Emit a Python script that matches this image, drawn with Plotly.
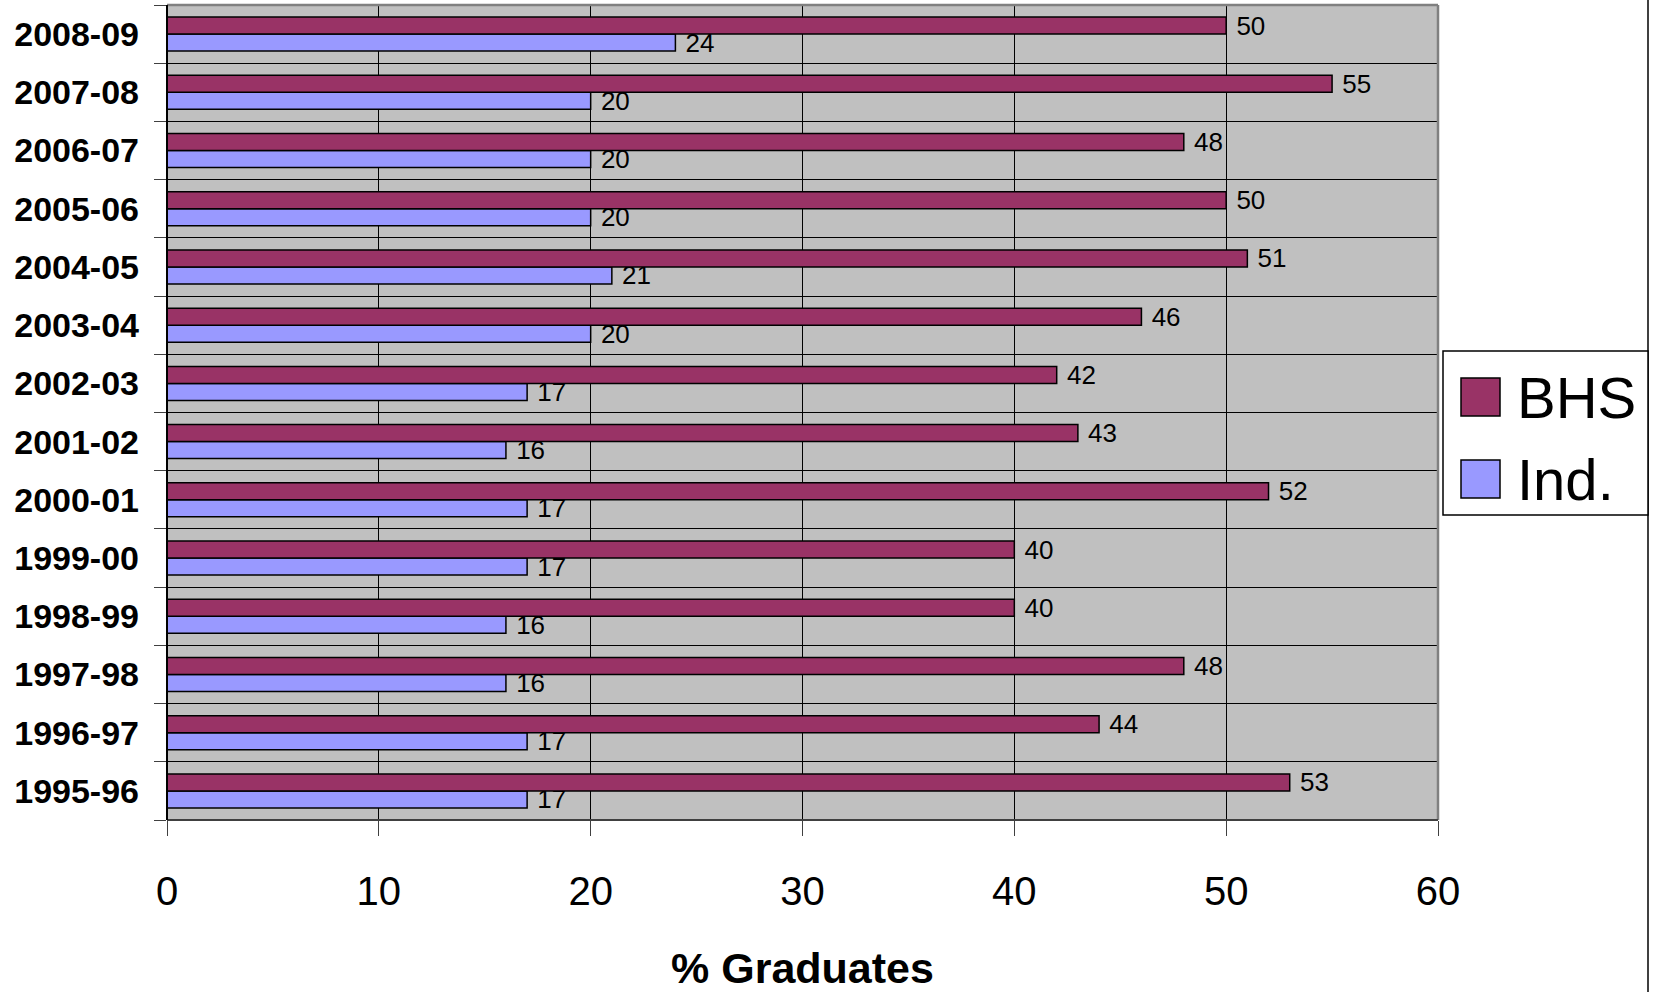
import plotly.graph_objects as go

# School years, newest at the top
years = ["2008-09", "2007-08", "2006-07", "2005-06", "2004-05", "2003-04", "2002-03",
         "2001-02", "2000-01", "1999-00", "1998-99", "1997-98", "1996-97", "1995-96"]
bhs = [50, 55, 48, 50, 51, 46, 42, 43, 52, 40, 40, 48, 44, 53]
ind = [24, 20, 20, 20, 21, 20, 17, 16, 17, 17, 16, 16, 17, 17]
series_names = ["BHS", "Ind."]
series_colors = ["#993366", "#9999FF"]
x_ticks = [0, 10, 20, 30, 40, 50, 60]

FONT = "Liberation Sans, Arial, sans-serif"

# Figure size and plot-area placement in pixels
W, H = 1654, 992
L, R, T, B = 167, 1438, 5, 820

fig = go.Figure()
# horizontal groups stack the first trace at the bottom, so add Ind. first
for name, vals, color in reversed(list(zip(series_names, [bhs, ind], series_colors))):
    fig.add_trace(go.Bar(
        y=years, x=vals, name=name, orientation="h",
        marker=dict(color=color, line=dict(color="black", width=1.5)),
        text=["\u00a0" + str(v) for v in vals], textposition="outside", constraintext="none",
        textfont=dict(family=FONT, size=26, color="black"),
        cliponaxis=False, showlegend=False,
    ))

fig.update_layout(
    width=W, height=H,
    margin=dict(l=L, r=W - R, t=T, b=H - B),
    paper_bgcolor="white", plot_bgcolor="#C0C0C0",
    barmode="group", bargap=0.416, bargroupgap=0,
    font=dict(family=FONT, color="black"),
)

fig.update_yaxes(
    type="category", categoryorder="array", categoryarray=years[::-1],
    tickson="boundaries", ticks="outside", ticklen=12, tickcolor="#404040",
    showgrid=True, gridcolor="black", gridwidth=1,
    tickfont=dict(family=FONT, size=34, color="black", weight="bold"),
    ticklabelstandoff=27,
    showline=False,
)

fig.update_xaxes(
    range=[0, 60], tickvals=x_ticks, ticktext=[str(t) for t in x_ticks],
    ticks="outside", ticklen=15, tickcolor="#404040",
    showgrid=True, gridcolor="black", gridwidth=1, zeroline=False,
    tickfont=dict(family=FONT, size=40, color="black"),
    ticklabelstandoff=21,
    showline=False,
    title=dict(text="% Graduates", font=dict(family=FONT, size=43, color="black", weight="bold"),
               standoff=40),
)

# helpers converting figure pixels into plot-area paper fractions
def px(x):
    return (x - L) / (R - L)

def py(y):
    return (B - y) / (B - T)

# plot-area frame: grey on top and right, dark on left and bottom
frame = [
    (L, T, R, T, "#808080", 2.5),
    (R, T, R, B, "#808080", 2.5),
    (L, B, R, B, "#404040", 2),
    (L, T, L, B, "black", 2),
]
for x0, y0, x1, y1, c, w in frame:
    fig.add_shape(type="line", xref="paper", yref="paper",
                  x0=px(x0), y0=py(y0), x1=px(x1), y1=py(y1),
                  line=dict(color=c, width=w), layer="above")

# outer chart edge on the right
fig.add_shape(type="line", xref="paper", yref="paper",
              x0=px(1648), x1=px(1648), y0=py(H), y1=py(0),
              line=dict(color="black", width=1.5))

# legend box drawn by hand so the swatches can be large
fig.add_shape(type="rect", xref="paper", yref="paper",
              x0=px(1443), x1=px(1648), y0=py(515), y1=py(351),
              line=dict(color="black", width=1.5), fillcolor="white", layer="above")

rows_y = [397, 479]
for name, color, cy in zip(series_names, series_colors, rows_y):
    fig.add_shape(type="rect", xref="paper", yref="paper",
                  x0=px(1461), x1=px(1500), y0=py(cy + 19), y1=py(cy - 19),
                  line=dict(color="black", width=1.5), fillcolor=color, layer="above")
    fig.add_annotation(xref="paper", yref="paper", x=px(1515), y=py(cy),
                       text=name, showarrow=False, xanchor="left", yanchor="middle",
                       font=dict(family=FONT, size=58, color="black"))

fig.write_html("out.html")
